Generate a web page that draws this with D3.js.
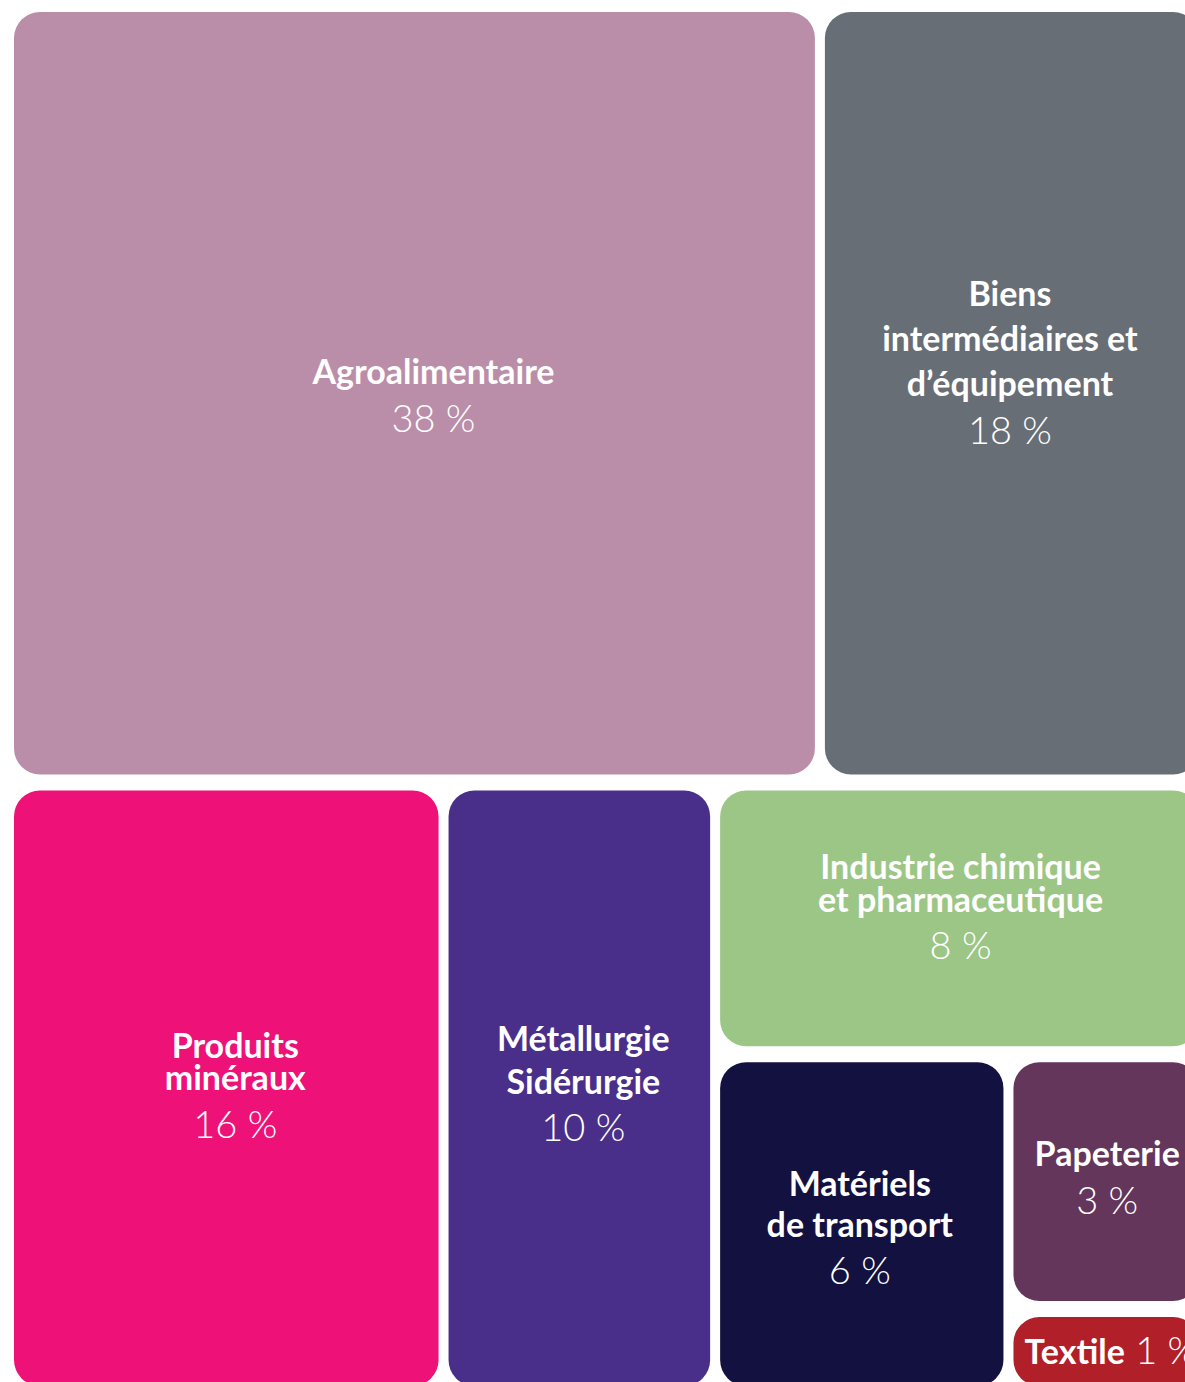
<!DOCTYPE html>
<html>
<head>
<meta charset="utf-8">
<script src="https://cdn.jsdelivr.net/npm/d3@7"></script>
<style>
  html, body { margin: 0; padding: 0; background: #ffffff; overflow: hidden; }
  svg { display: block; }
</style>
</head>
<body>
<svg id="chart" width="1185" height="1382"></svg>
<script>
// ---- data ----
const categories = [
  "Agroalimentaire",
  "Biens intermédiaires et d’équipement",
  "Produits minéraux",
  "Métallurgie Sidérurgie",
  "Industrie chimique et pharmaceutique",
  "Matériels de transport",
  "Papeterie",
  "Textile"
];
const values = [38, 18, 16, 10, 8, 6, 3, 1];
const valueLabels = ["38 %", "18 %", "16 %", "10 %", "8 %", "6 %", "3 %", "1 %"];
const labelLines = [
  ["Agroalimentaire"],
  ["Biens", "intermédiaires et", "d’équipement"],
  ["Produits", "minéraux"],
  ["Métallurgie", "Sidérurgie"],
  ["Industrie chimique", "et pharmaceutique"],
  ["Matériels", "de transport"],
  ["Papeterie"],
  ["Textile"]
];
const colors = ["#ba8ea9", "#686e76", "#ee1178", "#4a2f8a", "#9bc686", "#13113f", "#64365c", "#b11f29"];

// ---- layout / style config ----
const W = 1195, H = 1390, originX = 14, originY = 12;
const gapX = 10, gapY = 16, radius = 26;
const boldSize = 34, lightSize = 38;
const fontFamily = "Lato, 'Noto Sans', sans-serif";
// per item: line spacing between bold lines, spacing to percent line, label nudge
const lineGap  = [0, 45, 32, 43, 33, 41, 0, 0];
const pctGap   = [48, 48, 48, 47, 47, 47, 48, 0];
const nudgeX   = [19, -2, 9, 4, 1, -2, 1, 0];
const nudgeY   = [4, -29, -1, -3, -10, 5, -3, 1];

// nested grouping (by index)
const item = i => ({ idx: i, value: values[i] });
const tree = {
  children: [
    { children: [item(0), item(1)] },
    { children: [
        item(2), item(3),
        { children: [
            item(4),
            { children: [ item(5), { children: [item(6), item(7)] } ] }
        ] }
    ] }
  ]
};

const root = d3.hierarchy(tree).sum(d => d.value || 0);
d3.treemap()
  .size([W, H])
  .tile((node, x0, y0, x1, y1) =>
    (node.depth & 1 ? d3.treemapDice : d3.treemapSlice)(node, x0, y0, x1, y1))
  (root);

const svg = d3.select("#chart");
const g = svg.append("g").attr("transform", `translate(${originX},${originY})`);

const leaves = root.leaves();
const cell = g.selectAll("g.cell").data(leaves).join("g").attr("class", "cell");

cell.append("rect")
  .attr("x", d => d.x0)
  .attr("y", d => d.y0)
  .attr("width", d => d.x1 - d.x0 - gapX)
  .attr("height", d => d.y1 - d.y0 - gapY)
  .attr("rx", radius).attr("ry", radius)
  .attr("fill", d => colors[d.data.idx]);

cell.each(function(d) {
  const i = d.data.idx;
  const el = d3.select(this);
  const cx = (d.x0 + d.x1 - gapX) / 2 + nudgeX[i];
  const cy = (d.y0 + d.y1 - gapY) / 2 + nudgeY[i];
  const lines = labelLines[i];
  if (i === 7) {
    // inline label
    const t = el.append("text")
      .attr("x", d.x0 + 11)
      .attr("y", cy + 11)
      .attr("fill", "#fff")
      .attr("font-family", fontFamily);
    t.append("tspan").attr("font-weight", 700).attr("font-size", boldSize).text(lines[0]);
    t.append("tspan").attr("font-weight", 300).attr("font-size", lightSize).text(" " + valueLabels[i]);
    return;
  }
  const span = (lines.length - 1) * lineGap[i] + pctGap[i];
  const first = cy - span / 2 + 11;
  lines.forEach((ln, k) => {
    el.append("text")
      .attr("x", cx)
      .attr("y", first + k * lineGap[i])
      .attr("text-anchor", "middle")
      .attr("fill", "#fff")
      .attr("font-family", fontFamily)
      .attr("font-weight", 700)
      .attr("font-size", boldSize)
      .text(ln);
  });
  el.append("text")
    .attr("x", cx)
    .attr("y", first + (lines.length - 1) * lineGap[i] + pctGap[i])
    .attr("text-anchor", "middle")
    .attr("fill", "#fff")
    .attr("font-family", fontFamily)
    .attr("font-weight", 300)
    .attr("font-size", lightSize)
    .text(valueLabels[i]);
});
</script>
</body>
</html>
